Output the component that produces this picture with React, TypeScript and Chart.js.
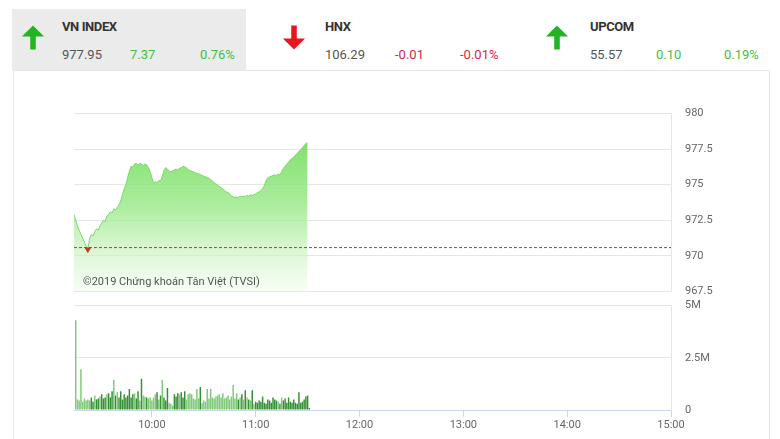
import React, { useEffect, useRef } from "react";
import { Chart, registerables } from "chart.js";

Chart.register(...registerables);

const SESSION_START = "09:15";
const SESSION_END = "15:00";
const HOUR_LABELS = ["10:00", "11:00", "12:00", "13:00", "14:00", "15:00"];

// VN-Index, one value per minute from 09:15 to 11:30
const PRICE = [
  972.9, 972.5, 972.1, 971.8, 971.5, 971.25, 970.95, 970.7, 970.45, 971.2,
  971.5, 971.4, 971.7, 971.9, 971.8, 972.1, 972.3, 972.5, 972.4, 972.8,
  972.9, 973.1, 973.0, 973.3, 973.25, 973.4, 973.6, 973.85, 974.3, 974.7,
  975.0, 975.5, 975.95, 976.3, 976.25, 976.45, 976.5, 976.4, 976.5, 976.45,
  976.35, 976.45, 976.4, 976.2, 975.9, 975.5, 975.1, 975.2, 975.15, 975.3,
  975.25, 975.6, 976.0, 976.2, 976.1, 975.95, 975.9, 976.0, 976.05, 976.1,
  976.05, 976.15, 976.2, 976.3, 976.25, 976.2, 976.05, 976.0, 975.95, 975.9,
  975.85, 975.8, 975.8, 975.7, 975.65, 975.6, 975.55, 975.5, 975.45, 975.35,
  975.25, 975.15, 975.05, 974.95, 974.88, 974.8, 974.7, 974.6, 974.5, 974.45,
  974.35, 974.2, 974.15, 974.1, 974.15, 974.1, 974.2, 974.15, 974.2, 974.17,
  974.25, 974.2, 974.3, 974.25, 974.3, 974.35, 974.45, 974.5, 974.6, 974.7,
  974.95, 975.3, 975.5, 975.55, 975.6, 975.65, 975.7, 975.65, 975.75, 975.7,
  975.9, 976.15, 976.3, 976.45, 976.6, 976.75, 976.85, 976.95, 977.1, 977.2,
  977.35, 977.45, 977.6, 977.75, 977.9, 977.95,
];

// Matched volume (millions of shares), one bar per minute
const VOLUME_M = [
  4.3, 0.5, 0.45, 1.95, 0.4, 0.55, 0.45, 0.5, 0.45, 0.6,
  0.4, 0.7, 0.5, 0.55, 0.65, 0.75, 0.55, 0.6, 0.75, 0.8,
  0.6, 0.9, 1.45, 0.7, 0.85, 0.6, 0.9, 0.5, 0.75, 0.6,
  0.7, 1.0, 0.6, 0.75, 0.8, 0.55, 0.9, 0.45, 1.5, 0.7,
  0.65, 0.6, 0.55, 0.6, 0.45, 0.6, 0.75, 0.85, 0.5, 0.7,
  1.45, 0.6, 0.45, 1.05, 0.35, 0.3, 0.2, 0.75, 0.65, 0.8,
  0.75, 0.85, 0.6, 0.9, 0.5, 0.75, 0.8, 0.75, 0.55, 0.5,
  1.0, 0.55, 1.1, 0.35, 0.45, 0.4, 1.0, 0.55, 1.0, 0.6,
  0.55, 0.65, 0.7, 0.75, 0.6, 0.8, 0.55, 0.6, 0.7, 0.5,
  0.65, 1.2, 0.55, 0.8, 0.5, 0.6, 0.75, 0.5, 0.95, 0.6,
  0.5, 0.45, 0.95, 0.3, 0.4, 0.35, 0.45, 0.4, 0.65, 0.35,
  0.3, 0.5, 0.45, 0.35, 0.6, 0.5, 0.45, 0.4, 0.3, 0.6,
  0.45, 0.55, 0.35, 0.6, 0.4, 0.35, 0.5, 0.35, 0.3, 0.85,
  0.35, 0.4, 0.5, 0.65, 0.7, 0.1,
];

const REF_PRICE = 970.58;
const PRICE_TICKS = [967.5, 970, 972.5, 975, 977.5, 980];
const VOLUME_TICKS_M = [0, 2.5, 5];

const INDEX_NAMES = ["VN INDEX", "HNX", "UPCOM"];
const INDEX_VALUES = ["977.95", "106.29", "55.57"];
const INDEX_CHANGES = ["7.37", "-0.01", "0.10"];
const INDEX_PCTS = ["0.76%", "-0.01%", "0.19%"];

const toMin = (t: string) => {
  const [h, m] = t.split(":").map(Number);
  return h * 60 + m;
};
const START = toMin(SESSION_START);
const SPAN = toMin(SESSION_END) - START;
const HOUR_POS = HOUR_LABELS.map((l) => toMin(l) - START);

const GRID = "#e6e6e6";
const AXIS = "#ccd6eb";
const FONT = "Roboto, 'Noto Sans', sans-serif";

Chart.defaults.font.family = FONT;
Chart.defaults.font.size = 11;
Chart.defaults.color = "#666";

function PriceChart() {
  const ref = useRef<HTMLCanvasElement>(null);
  useEffect(() => {
    const pts = PRICE.map((v, i) => ({ x: i, y: v }));
    let minIdx = 0;
    PRICE.forEach((v, i) => {
      if (v < PRICE[minIdx]) minIdx = i;
    });
    const chart = new Chart(ref.current!, {
      type: "line",
      data: {
        datasets: [
          {
            data: [{ x: minIdx, y: PRICE[minIdx] }],
            type: "scatter",
            pointStyle: "triangle",
            rotation: 180,
            radius: 3,
            backgroundColor: "#c0392b",
            borderColor: "#c0392b",
            order: 0,
          } as any,
          {
            data: [
              { x: 0, y: REF_PRICE },
              { x: SPAN, y: REF_PRICE },
            ],
            borderColor: "#c0392b",
            borderWidth: 1,
            borderDash: [3, 2],
            pointRadius: 0,
            fill: false,
            order: 1,
          },
          {
            data: pts,
            borderColor: "#7ad96a",
            borderWidth: 1,
            pointRadius: 0,
            tension: 0,
            fill: "start",
            order: 2,
            backgroundColor: (ctx: any) => {
              const { chart } = ctx;
              const area = chart.chartArea;
              if (!area) return "rgba(140,225,120,0.6)";
              const g = chart.ctx.createLinearGradient(0, area.top + 25, 0, area.bottom);
              g.addColorStop(0, "rgba(115,220,92,0.92)");
              g.addColorStop(0.45, "rgba(150,232,132,0.78)");
              g.addColorStop(1, "rgba(232,250,228,0.4)");
              return g;
            },
          },
        ],
      },
      options: {
        animation: false,
        responsive: false,
        events: [],
        layout: { autoPadding: false, padding: 0 },
        plugins: { legend: { display: false }, tooltip: { enabled: false } },
        scales: {
          x: { type: "linear", min: 0, max: SPAN, display: false },
          y: {
            position: "right",
            min: PRICE_TICKS[0],
            max: PRICE_TICKS[PRICE_TICKS.length - 1],
            afterBuildTicks: (s: any) => {
              s.ticks = PRICE_TICKS.map((v) => ({ value: v }));
            },
            afterFit: (s: any) => {
              s.width = 109;
            },
            grid: { color: GRID, drawTicks: false },
            border: { display: true, color: GRID },
            ticks: { padding: 14, color: "#666", callback: (v: any) => String(v) },
          },
        },
      } as any,
    });
    return () => chart.destroy();
  }, []);
  return (
    <canvas
      ref={ref}
      width={706}
      height={219}
      style={{ position: "absolute", left: 74, top: 93, width: 706, height: 219 }}
    />
  );
}

function VolumeChart() {
  const ref = useRef<HTMLCanvasElement>(null);
  useEffect(() => {
    const colors = VOLUME_M.map((_, i) =>
      i > 0 && PRICE[Math.min(i, PRICE.length - 1)] >= PRICE[i - 1] ? "#358f35" : "#7fc979"
    );
    const chart = new Chart(ref.current!, {
      type: "bar",
      data: {
        datasets: [
          {
            data: VOLUME_M.map((v, i) => ({ x: i + 1, y: v })),
            backgroundColor: colors,
            borderWidth: 0,
            barPercentage: 0.85,
            categoryPercentage: 1,
          },
        ],
      },
      options: {
        animation: false,
        responsive: false,
        events: [],
        layout: { autoPadding: false, padding: 0 },
        plugins: { legend: { display: false }, tooltip: { enabled: false } },
        scales: {
          x: {
            type: "linear",
            min: 0,
            max: SPAN,
            offset: false,
            afterBuildTicks: (s: any) => {
              s.ticks = HOUR_POS.map((v) => ({ value: v }));
            },
            afterFit: (s: any) => {
              s.height = 29;
            },
            grid: { drawOnChartArea: false, drawTicks: true, tickLength: 7, color: AXIS, offset: false },
            border: { display: true, color: AXIS },
            ticks: {
              padding: 2,
              maxRotation: 0,
              autoSkip: false,
              color: "#666",
              callback: (v: any) => HOUR_LABELS[HOUR_POS.indexOf(v)] ?? "",
            },
          },
          y: {
            position: "right",
            min: 0,
            max: VOLUME_TICKS_M[VOLUME_TICKS_M.length - 1],
            afterBuildTicks: (s: any) => {
              s.ticks = VOLUME_TICKS_M.map((v) => ({ value: v }));
            },
            afterFit: (s: any) => {
              s.width = 109;
            },
            grid: { color: GRID, drawTicks: false },
            border: { display: true, color: GRID },
            ticks: {
              padding: 14,
              color: "#666",
              callback: (v: any) => (v === 0 ? "0" : `${v}M`),
            },
          },
        },
      } as any,
    });
    return () => chart.destroy();
  }, []);
  return (
    <canvas
      ref={ref}
      width={706}
      height={154}
      style={{ position: "absolute", left: 74, top: 285, width: 706, height: 154 }}
    />
  );
}

function Arrow({ up, left }: { up: boolean; left: number }) {
  const color = up ? "#22b422" : "#e8161a";
  return (
    <svg
      width={24}
      height={25}
      viewBox="0 0 26 26"
      style={{ position: "absolute", left, top: 25 }}
    >
      {up ? (
        <g fill={color}>
          <polygon points="1,12 13,0 25,12" />
          <rect x={10} y={9} width={6} height={17} />
        </g>
      ) : (
        <g fill={color}>
          <polygon points="1,14 13,26 25,14" />
          <rect x={10} y={0} width={6} height={17} />
        </g>
      )}
    </svg>
  );
}

const BLOCKS = [
  { arrow: 21, text: 62, d1: 68, d2: 138 },
  { arrow: 282, text: 325, d1: 70, d2: 135 },
  { arrow: 545, text: 590, d1: 66, d2: 134 },
];

function Header() {
  return (
    <>
      <div
        style={{
          position: "absolute",
          left: 12,
          top: 9,
          width: 234,
          height: 61,
          background: "#ebebeb",
        }}
      />
      {BLOCKS.map((b, i) => {
        const up = !INDEX_CHANGES[i].startsWith("-");
        const chg = up ? "#3fbf3f" : "#d6264a";
        const row = { position: "absolute" as const, top: 47, fontSize: 13, lineHeight: "16px" };
        return (
          <React.Fragment key={i}>
            <Arrow up={up} left={b.arrow} />
            <div
              style={{
                position: "absolute",
                left: b.text,
                top: 19,
                fontSize: 13,
                lineHeight: "16px",
                fontWeight: 700,
                color: "#333",
                letterSpacing: -0.4,
              }}
            >
              {INDEX_NAMES[i]}
            </div>
            <div style={{ ...row, left: b.text, color: "#555" }}>{INDEX_VALUES[i]}</div>
            <div style={{ ...row, left: b.text + b.d1, color: chg }}>{INDEX_CHANGES[i]}</div>
            <div style={{ ...row, left: b.text + b.d2, color: chg }}>{INDEX_PCTS[i]}</div>
          </React.Fragment>
        );
      })}
    </>
  );
}

export default function App() {
  return (
    <div
      style={{
        position: "fixed",
        left: 0,
        top: 0,
        width: 780,
        height: 439,
        background: "#fff",
        overflow: "hidden",
        fontFamily: FONT,
      }}
    >
      <div
        style={{
          position: "absolute",
          left: 13,
          top: 70,
          width: 757,
          height: 400,
          border: "1px solid #e8e8e8",
          boxSizing: "border-box",
        }}
      />
      <Header />
      <PriceChart />
      <VolumeChart />
      <div
        style={{
          position: "absolute",
          left: 83,
          top: 275,
          fontSize: 11,
          lineHeight: "14px",
          color: "#555",
          whiteSpace: "nowrap",
        }}
      >
        ©2019 Chứng khoán Tân Việt (TVSI)
      </div>
    </div>
  );
}
